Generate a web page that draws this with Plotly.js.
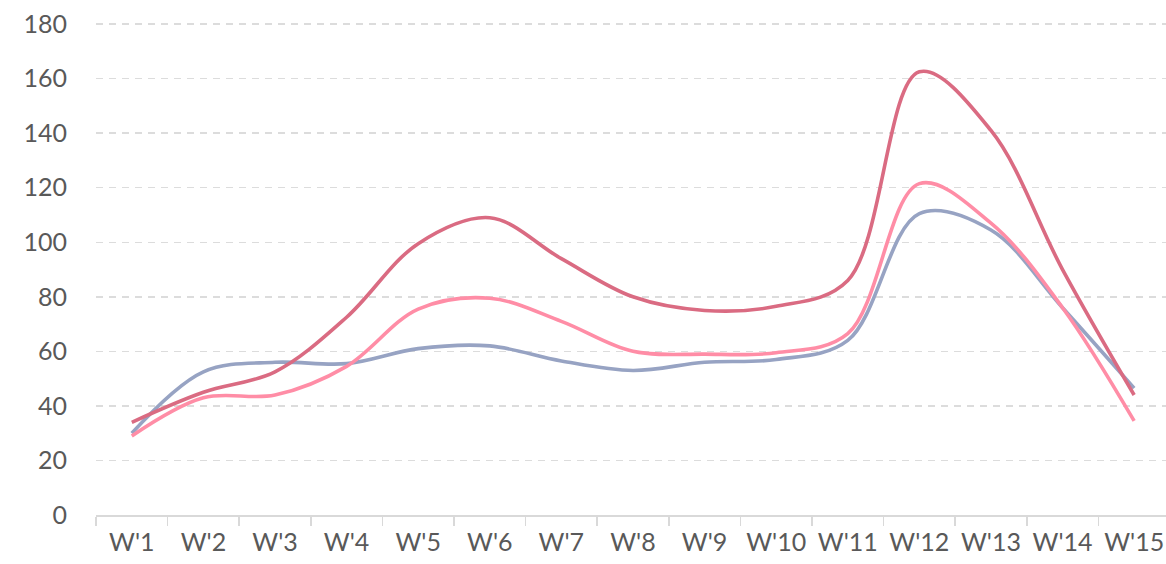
<!DOCTYPE html>
<html>
<head>
<meta charset="utf-8">
<script src="https://cdn.plot.ly/plotly-3.0.1.min.js"></script>
<style>html,body{margin:0;padding:0;background:#fff;}#chart{width:1166px;height:564px;}</style>
</head>
<body>
<div id="chart"></div>
<script>
var categories = ["W'1","W'2","W'3","W'4","W'5","W'6","W'7","W'8","W'9","W'10","W'11","W'12","W'13","W'14","W'15"];
var seriesDark = [34, 45, 52.5, 72.5, 99.5, 109, 94, 80, 75, 76.5, 86, 162.5, 141, 90, 44];
var seriesPink = [29, 43, 44, 54.5, 75.5, 79.5, 71, 60, 59, 59.5, 66.5, 121.5, 107, 76, 34.5];
var seriesBlue = [30, 52.5, 56, 55.5, 61, 62, 56.5, 53, 56, 57, 64, 110.5, 104.5, 76, 46.5];
var yTicks = [0, 20, 40, 60, 80, 100, 120, 140, 160, 180];

function tr(y, color) {
  return {
    x: categories, y: y, type: 'scatter', mode: 'lines',
    line: {color: color, width: 3.6, shape: 'spline', smoothing: 1},
    hoverinfo: 'skip', showlegend: false
  };
}
var data = [tr(seriesBlue, '#97A3C3'), tr(seriesPink, '#FF8DA6'), tr(seriesDark, '#DA6B82')];

var layout = {
  width: 1166, height: 564,
  margin: {l: 96, r: 0, t: 23, b: 49, pad: 0},
  paper_bgcolor: '#ffffff', plot_bgcolor: '#ffffff',
  font: {family: 'Lato, "Open Sans", sans-serif', size: 25, color: '#595959'},
  showlegend: false,
  xaxis: {
    type: 'category',
    range: [-0.5, 14.445],
    tickson: 'boundaries',
    ticks: 'outside', ticklen: 9, tickwidth: 1.5, tickcolor: '#D9D9D9',
    showline: true, linecolor: '#D9D9D9', linewidth: 1.5,
    showgrid: false, zeroline: false,
    tickfont: {family: 'Lato, "Open Sans", sans-serif', size: 25, color: '#595959'},
    ticklabelstandoff: 4
  },
  yaxis: {
    range: [0, 180.4],
    tickvals: yTicks,
    ticktext: yTicks.map(String),
    showline: false, zeroline: false,
    showgrid: true, gridcolor: '#DCDCDC', gridwidth: 1.5, griddash: '7px,6px',
    ticks: '', ticklabelstandoff: 28,
    tickfont: {family: 'Lato, "Open Sans", sans-serif', size: 25, color: '#595959'}
  }
};
Plotly.newPlot('chart', data, layout, {staticPlot: true, displayModeBar: false});
</script>
</body>
</html>
